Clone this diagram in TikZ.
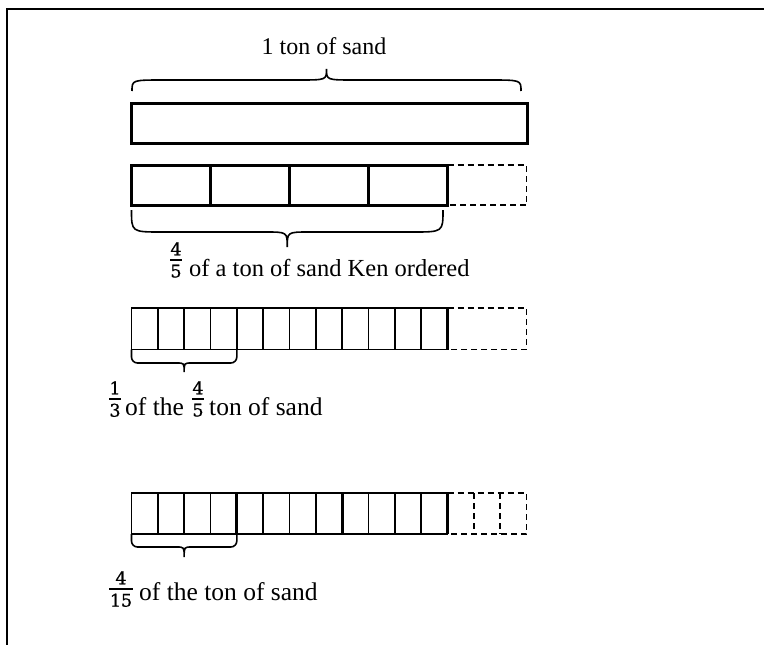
\documentclass[tikz,border=0pt]{standalone}
\usepackage{fontspec}
\setmainfont{Liberation Serif}
\newfontfamily\fracfont[FakeBold=0.8]{DejaVu Serif}
\newcommand{\bigbrace}[7]{% x1,x2,yend,yflat,ytip,rend,rmid
  \draw[brc] (#1,#3) .. controls (#1,#4) .. ({#1+#6},#4) -- ({(#1+#2)/2-#7},#4)
    .. controls ({(#1+#2)/2},#4) .. ({(#1+#2)/2},#5)
    .. controls ({(#1+#2)/2},#4) .. ({(#1+#2)/2+#7},#4) -- ({#2-#6},#4)
    .. controls (#2,#4) .. (#2,#3);}
\newcommand{\smallbrace}[5]{% x1,x2,yend,yflat,ytip
  \draw[brc,rounded corners=6pt] (#1,#3) -- (#1,#4) -- ({(#1+#2)/2-7},#4);
  \draw[brc] ({(#1+#2)/2-7.5},#4) .. controls ({(#1+#2)/2},#4) .. ({(#1+#2)/2},#5)
    .. controls ({(#1+#2)/2},#4) .. ({(#1+#2)/2+7.5},#4);
  \draw[brc,rounded corners=6pt] ({(#1+#2)/2+7},#4) -- (#2,#4) -- (#2,#3);}
\begin{document}
\begin{tikzpicture}[x=1pt,y=-1pt,
  lbl/.style={anchor=base west, inner sep=0pt, font=\fontsize{24.5}{28}\selectfont},
  lblb/.style={anchor=base west, inner sep=0pt, font=\fontsize{25.5}{28}\selectfont},
  ttl/.style={anchor=base, inner sep=0pt, font=\fontsize{24}{28}\selectfont},
  num/.style={anchor=south, inner sep=0pt, font=\fracfont\fontsize{17.5}{18}\selectfont},
  den/.style={anchor=north, inner sep=0pt, font=\fracfont\fontsize{17.5}{18}\selectfont},
  fbar/.style={line width=1.3pt},
  thickbox/.style={line width=3pt},
  thinbox/.style={line width=1.8pt},
  sep/.style={line width=3.2pt},
  dsh/.style={line width=1.8pt, dash pattern=on 6pt off 4pt},
  brc/.style={line width=1.6pt},
  frame/.style={line width=2pt}]
\useasboundingbox (0,0) rectangle (764,645);
% frame
\draw[frame] (7,645) -- (7,9) -- (764,9);
% title
\node[ttl] (t1) at (324,54) {1 ton of sand};
\bigbrace{132}{521}{91}{80}{69}{32}{28}
% row 1
\draw[thickbox] (131.5,103) rectangle (527,143);
% row 2
\draw[thickbox] (131.5,165) rectangle (447.5,205);
\foreach \i in {1,2,3} \draw[thickbox] ({131.5+79*\i},165) -- ({131.5+79*\i},205);
\draw[dsh] (447.5,165) -- (526.5,165) -- (526.5,205) -- (447.5,205);
\bigbrace{131.5}{443}{210}{232}{247}{30}{22}
% label 2
\node[num] (n2) at (176,255.5) {4};
\draw[fbar] (170,260) -- (182,260);
\node[den] (d2) at (176,264.5) {5};
\node[lbl] (l2) at (189,276) {of a ton of sand Ken ordered};
% row 3
\foreach \i in {1,...,11} \draw[thinbox] ({131.5+26.333*\i},308) -- ({131.5+26.333*\i},349.5);
\draw[thinbox] (447.5,308) -- (131.5,308) -- (131.5,349.5) -- (447.5,349.5);
\draw[sep] (447.5,308) -- (447.5,349.5);
\draw[dsh] (447.5,308) -- (526.5,308) -- (526.5,349.5) -- (447.5,349.5);
\smallbrace{131.5}{236.8}{349.5}{363}{372}
% label 3
\node[num] (n3a) at (115,394.5) {1};
\draw[fbar] (109,399) -- (121,399);
\node[den] (d3a) at (115,403.5) {3};
\node[lblb] (l3a) at (125,415) {of the};
\node[num] (n3b) at (198,394.5) {4};
\draw[fbar] (192,399) -- (204,399);
\node[den] (d3b) at (198,403.5) {5};
\node[lblb] (l3b) at (209,415) {ton of sand};
% row 4
\foreach \i in {1,2,3,5,6,7,9,10,11} \draw[thinbox] ({131.5+26.333*\i},493) -- ({131.5+26.333*\i},534);
\draw[thinbox] (447.5,493) -- (131.5,493) -- (131.5,534) -- (447.5,534);
\foreach \i in {4,8,12} \draw[sep] ({131.5+26.333*\i},493) -- ({131.5+26.333*\i},534);
\draw[dsh] (447.5,493) -- (526.5,493) -- (526.5,534) -- (447.5,534);
\draw[dsh] (473.8,493) -- (473.8,534);
\draw[dsh] (500.2,493) -- (500.2,534);
\smallbrace{131.5}{236.8}{534}{547}{557}
% label 4
\node[num] (n4) at (121,584.5) {4};
\draw[fbar] (109,589) -- (133,589);
\node[den] (d4) at (121,593.5) {15};
\node[lblb] (l4) at (139,600) {of the ton of sand};
\end{tikzpicture}
\end{document}
